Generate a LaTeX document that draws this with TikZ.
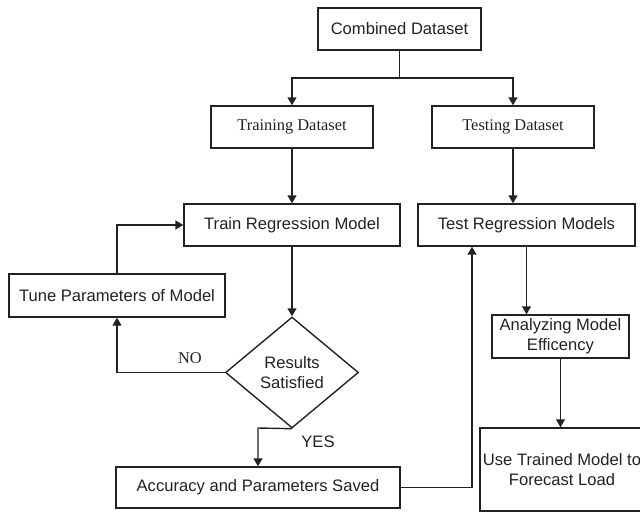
\documentclass[tikz,border=0pt]{standalone}
\usepackage{fontspec}
\setmainfont{Liberation Sans}
\newfontfamily\timesfont{Liberation Serif}
\usetikzlibrary{shapes.geometric,arrows.meta}
\definecolor{ink}{HTML}{222222}
\tikzset{
  every node/.style={text=ink},
  box/.style={draw=ink, line width=1.4pt, rectangle, inner sep=0pt, align=center,
              font=\fontsize{16.6}{21}\selectfont},
  decide/.style={draw=ink, line width=1.4pt, diamond, inner sep=0pt, aspect=1.2,
                 align=center, font=\fontsize{16.6}{21}\selectfont},
  link/.style={draw=ink, line width=1.4pt},
  arr/.style={link, -{Triangle[width=9pt,length=8pt]}},
  lbl/.style={font=\fontsize{16.6}{20}\selectfont}
}
\begin{document}
\begin{tikzpicture}[x=1pt, y=-1pt]
\useasboundingbox (0,0) rectangle (640,512);
\clip (0,0) rectangle (640,512);

% boxes
\node[box, minimum width=163pt, minimum height=42pt] (comb) at (399.5,29) {Combined Dataset};
\node[box, minimum width=162pt, minimum height=42pt, font=\timesfont\fontsize{16.4}{20}\selectfont] (trainds) at (292,127) {Training Dataset};
\node[box, minimum width=162pt, minimum height=42pt, font=\timesfont\fontsize{16.4}{20}\selectfont] (testds) at (513,127) {Testing Dataset};
\node[box, minimum width=216pt, minimum height=42pt] (trainm) at (292,225) {Train Regression Model};
\node[box, minimum width=217pt, minimum height=42pt] (testm) at (526.5,225) {Test Regression Models};
\node[box, minimum width=216pt, minimum height=43pt] (tune) at (117,295.5) {Tune Parameters of Model};
\node[decide, minimum width=133pt, minimum height=111pt] (dia) at (292,372.5) {Results\\[-1pt]Satisfied};
\node[box, minimum width=284pt, minimum height=41pt] (acc) at (258,487.5) {Accuracy and Parameters Saved};
\node[box, minimum width=137pt, minimum height=43pt] (anal) at (560.5,336.5) {Analyzing Model\\[-1pt]Efficency};
\node[box, minimum width=164pt, minimum height=83pt] (use) at (562,469.5) {Use Trained Model to\\[-1pt]Forecast Load};

% split below the combined dataset
\coordinate (split) at (399.5,78);
\draw[link] (comb.south) -- (split);
\draw[arr] (split) -| (trainds.north);
\draw[arr] (split) -| (testds.north);

% training branch
\draw[arr] (trainds.south) -- (trainm.north);
\draw[arr] (trainm.south) -- (dia.north);
\draw[arr] (dia.west) -| (tune.south);
\draw[arr] (tune.north) |- (trainm.west);
\node[lbl, font=\timesfont\fontsize{16.4}{20}\selectfont] (no) at (190,358) {NO};
\coordinate (yesdrop) at (258,428);
\draw[arr] (dia.south) -- (yesdrop) -- (acc.north);
\node[lbl] (yes) at (318,442) {YES};

% saved parameters go to testing
\coordinate (rise) at (472,0);
\draw[arr] (acc.east) -| (rise |- testm.south);

% testing branch
\draw[arr] (testds.south) -- (testds.south |- testm.north);
\draw[arr] (testm.south) -- (testm.south |- anal.north);
\draw[arr] (anal.south) -- (anal.south |- use.north);
\end{tikzpicture}
\end{document}
